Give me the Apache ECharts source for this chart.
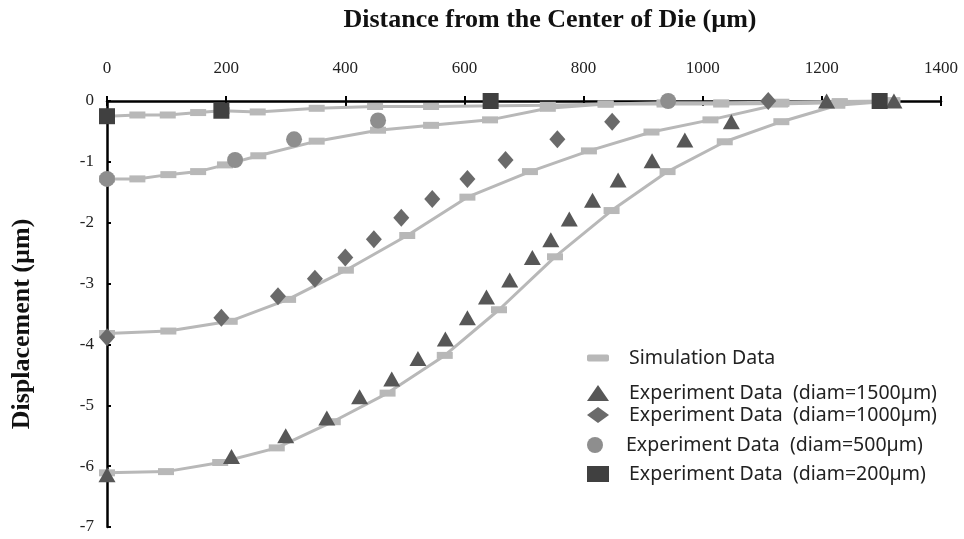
<!DOCTYPE html>
<html>
<head>
<meta charset="utf-8">
<script src="https://cdn.jsdelivr.net/npm/echarts@6/dist/echarts.min.js"></script>
<style>html,body{margin:0;padding:0;background:#fff}#c{width:964px;height:539px}</style>
</head>
<body>
<div id="c"></div>
<script>
// X tick labels
const xTicks = [0, 200, 400, 600, 800, 1000, 1200, 1400];
const yTicks = [0, -1, -2, -3, -4, -5, -6, -7];

// Simulation data (distance in µm, displacement in µm)
const simX1500 = [0, 99, 190, 285, 379, 471, 567, 658, 752, 847, 941, 1037, 1132, 1226, 1318];
const simY1500 = [-6.11, -6.09, -5.94, -5.70, -5.27, -4.80, -4.18, -3.43, -2.56, -1.80, -1.16, -0.67, -0.34, -0.07, 0];
const simX1000 = [0, 103, 206, 304, 401, 504, 605, 710, 809, 914, 1013, 1130, 1318];
const simY1000 = [-3.82, -3.78, -3.62, -3.26, -2.78, -2.21, -1.58, -1.16, -0.82, -0.51, -0.31, -0.05, 0];
const simX500 = [0, 51, 103, 153, 198, 254, 352, 455, 544, 643, 740, 837, 936, 1031, 1132, 1230, 1318];
const simY500 = [-1.28, -1.28, -1.21, -1.16, -1.05, -0.90, -0.66, -0.48, -0.40, -0.31, -0.12, -0.05, -0.03, -0.03, -0.02, -0.01, 0];
const simX200 = [0, 51, 102, 153, 193, 253, 352, 450, 544, 740, 837, 936, 1031, 1132, 1230, 1318];
const simY200 = [-0.25, -0.23, -0.23, -0.19, -0.16, -0.18, -0.12, -0.09, -0.09, -0.07, -0.05, -0.05, -0.05, -0.04, -0.02, 0];

// Experiment data
const expX1500 = [0, 209, 300, 369, 424, 478, 522, 568, 605, 637, 676, 714, 745, 776, 815, 858, 915, 970, 1048, 1208, 1321];
const expY1500 = [-6.14, -5.84, -5.50, -5.21, -4.86, -4.57, -4.23, -3.91, -3.56, -3.22, -2.94, -2.57, -2.28, -1.94, -1.63, -1.30, -0.98, -0.64, -0.34, 0, 0];
const expX1000 = [0, 192, 287, 349, 400, 448, 494, 546, 605, 669, 756, 848, 1110];
const expY1000 = [-3.88, -3.56, -3.21, -2.92, -2.57, -2.27, -1.92, -1.61, -1.28, -0.97, -0.63, -0.34, 0];
const expX500 = [0, 215, 314, 455, 942];
const expY500 = [-1.28, -0.97, -0.63, -0.32, 0];
const expX200 = [0, 192, 644, 1297];
const expY200 = [-0.25, -0.16, 0, 0];

const simName = 'Simulation Data';
const expNames = [
  'Experiment Data  (diam=1500µm)',
  'Experiment Data  (diam=1000µm)',
  'Experiment Data  (diam=500µm)',
  'Experiment Data  (diam=200µm)'
];

const zip = (xs, ys) => xs.map((x, i) => [x, ys[i]]);
const serif = '"Liberation Serif", "Times New Roman", serif';
const sans = '"Noto Sans", "Open Sans", sans-serif';

function simSeries(xs, ys) {
  return {
    type: 'line', name: simName, data: zip(xs, ys), clip: false,
    symbol: 'rect', symbolSize: [16, 7], showAllSymbol: true,
    lineStyle: { color: '#b8b8b8', width: 3 },
    itemStyle: { color: '#b8b8b8' },
    z: 2, silent: true
  };
}
function expSeries(name, xs, ys, symbol, size, color) {
  return {
    type: 'scatter', name, data: zip(xs, ys), clip: false,
    symbol, symbolSize: size, itemStyle: { color, opacity: 1 }, z: 5, silent: true
  };
}

const legendBase = {
  left: 587, orient: 'vertical', padding: 0, itemGap: 0,
  itemWidth: 22, itemHeight: 16, selectedMode: false,
  textStyle: { fontFamily: sans, fontSize: 19.5, color: '#222', padding: [0, 0, 0, 15] }
};

const chart = echarts.init(document.getElementById('c'), null, { renderer: 'canvas' });
chart.setOption({
  animation: false,
  backgroundColor: '#fff',
  grid: { left: 107, right: 23, top: 101, bottom: 12, containLabel: false, outerBoundsMode: 'none' },
  xAxis: [{
    type: 'value', position: 'top', min: 0, max: 1400, interval: 200,
    name: 'Distance from the Center of Die (µm)', nameLocation: 'middle', nameGap: 68,
    nameTextStyle: { fontFamily: serif, fontWeight: 'bold', fontSize: 26, color: '#111', padding: [0, 0, 0, 52] },
    axisLine: { onZero: false, lineStyle: { color: '#000', width: 2.5 } },
    axisTick: { inside: true, length: 5, lineStyle: { color: '#000', width: 2 } },
    axisLabel: { fontFamily: serif, fontSize: 17, color: '#222', margin: 24,
      formatter: v => xTicks.includes(v) ? String(v) : '' },
    splitLine: { show: false }
  }, {
    type: 'value', position: 'top', min: 0, max: 1400, interval: 200,
    axisLine: { show: false },
    axisTick: { show: true, inside: false, length: 5, lineStyle: { color: '#000', width: 2 } },
    axisLabel: { show: false }, splitLine: { show: false }
  }],
  yAxis: {
    type: 'value', min: -7, max: 0, interval: 1,
    name: 'Displacement (µm)', nameLocation: 'middle', nameGap: 72, nameRotate: 90,
    nameTextStyle: { fontFamily: serif, fontWeight: 'bold', fontSize: 26, color: '#111', padding: [0, 20, 0, 0] },
    axisLine: { onZero: false, lineStyle: { color: '#000', width: 2.5 } },
    axisTick: { inside: true, length: 4, lineStyle: { color: '#000', width: 2 } },
    axisLabel: { fontFamily: serif, fontSize: 17, color: '#222', margin: 13,
      formatter: v => yTicks.includes(v) ? String(v) : '' },
    splitLine: { show: false }
  },
  legend: [
    Object.assign({}, legendBase, { top: 348, itemHeight: 7, data: [{ name: simName, icon: 'roundRect' }] }),
    Object.assign({}, legendBase, { top: 383, data: [expNames[0]] }),
    Object.assign({}, legendBase, { top: 405, data: [expNames[1]] }),
    Object.assign({}, legendBase, { top: 435, data: [expNames[2]] }),
    Object.assign({}, legendBase, { top: 464, data: [expNames[3]] })
  ],
  series: [
    simSeries(simX1500, simY1500),
    simSeries(simX1000, simY1000),
    simSeries(simX500, simY500),
    simSeries(simX200, simY200),
    expSeries(expNames[0], expX1500, expY1500, 'triangle', [17, 15], '#575757'),
    expSeries(expNames[1], expX1000, expY1000, 'diamond', [16, 18], '#6a6a6a'),
    expSeries(expNames[2], expX500, expY500, 'circle', 16, '#8e8e8e'),
    expSeries(expNames[3], expX200, expY200, 'rect', 16, '#404040')
  ]
});
</script>
</body>
</html>
